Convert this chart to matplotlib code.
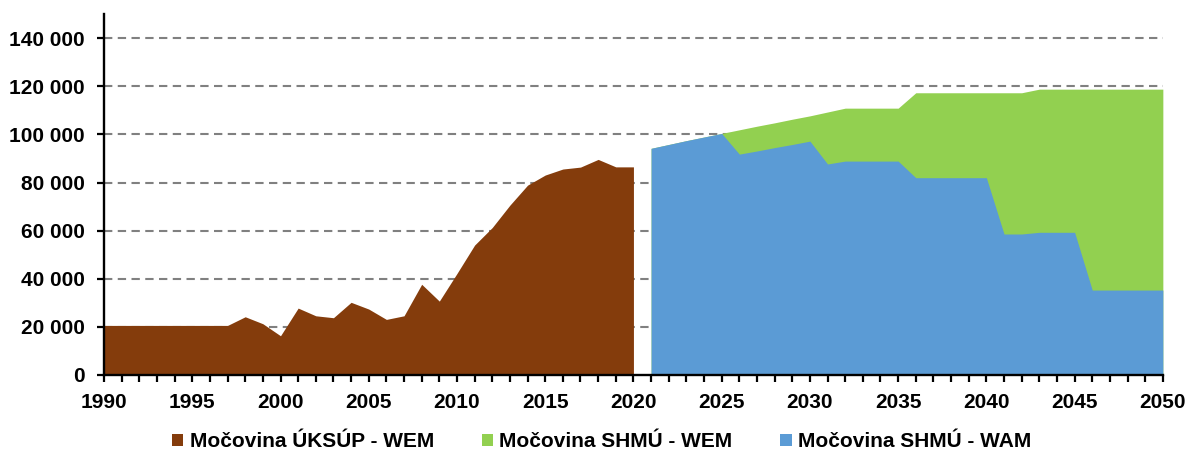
import matplotlib
matplotlib.use("Agg")
import matplotlib.pyplot as plt
from matplotlib.patches import Patch
from matplotlib.ticker import FuncFormatter, MultipleLocator

plt.rcParams['font.family'] = ['Liberation Sans', 'DejaVu Sans']
plt.rcParams['font.weight'] = 'bold'

# historical series (ÚKSÚP - WEM), 1990-2020
years_hist = list(range(1990, 2021))
uksup_wem = [20600, 20600, 20600, 20600, 20600, 20600, 20600, 20600, 24200, 21300,
             16300, 27800, 24600, 23800, 30200, 27400, 23100, 24600, 37700, 30700,
             42200, 54000, 61300, 70600, 78900, 83100, 85600, 86400, 89600, 86500,
             86500]

# projections (SHMÚ), 2021-2050
years_proj = list(range(2021, 2051))
shmu_wem = [94200, 95800, 97400, 98900, 100400, 101900, 103400, 104800, 106300, 107700,
            109300, 110900, 110900, 110900, 110900, 117300, 117300, 117300, 117300, 117300,
            117300, 117300, 118800, 118800, 118800, 118800, 118800, 118800, 118800, 118800]
shmu_wam = [94200, 95800, 97400, 98900, 100400, 91800, 93100, 94500, 95800, 97200,
            87700, 88900, 88900, 88900, 88900, 82000, 82000, 82000, 82000, 82000,
            58600, 58600, 59300, 59300, 59300, 35300, 35300, 35300, 35300, 35300]

series_labels = ["Močovina ÚKSÚP - WEM", "Močovina SHMÚ - WEM", "Močovina SHMÚ - WAM"]
colors = ["#843C0C", "#92D050", "#5B9BD5"]


def thousands(v, pos):
    return f"{v:,.0f}".replace(",", " ")


fig = plt.figure(figsize=(11.89, 4.5), dpi=100)
ax = fig.add_axes([0.0875, 0.1667, 0.8905, 0.802])

ax.fill_between(years_hist, 0, uksup_wem, color=colors[0], lw=0, zorder=2)
ax.fill_between(years_proj, 0, shmu_wem, color=colors[1], lw=0, zorder=2)
ax.fill_between(years_proj, 0, shmu_wam, color=colors[2], lw=0, zorder=3)

ax.set_xlim(1990, 2050)
ax.set_ylim(0, 150000)
ax.xaxis.set_major_locator(MultipleLocator(5))
ax.xaxis.set_minor_locator(MultipleLocator(1))
ax.yaxis.set_major_locator(MultipleLocator(20000))
ax.yaxis.set_major_formatter(FuncFormatter(thousands))

for v in range(20000, 140001, 20000):
    ax.axhline(v, color="#808080", lw=1.5, dashes=(4, 2.6), zorder=1)

for s in ["top", "right"]:
    ax.spines[s].set_visible(False)
for s in ["left", "bottom"]:
    ax.spines[s].set_linewidth(1.7)
    ax.spines[s].set_zorder(5)

ax.tick_params(axis="both", which="both", direction="out", length=5, width=1.6,
               labelsize=15)
ax.tick_params(axis="y", pad=9)
ax.tick_params(axis="x", pad=8)

handles = [Patch(facecolor=c, edgecolor="none") for c in colors]
fig.legend(handles, series_labels, loc="center", bbox_to_anchor=(0.506, 0.018),
           ncol=3, frameon=False, fontsize=15, handlelength=0.55, handleheight=0.55,
           handletextpad=0.3, columnspacing=2.3, borderaxespad=0)

fig.savefig("out.png", dpi=100)
